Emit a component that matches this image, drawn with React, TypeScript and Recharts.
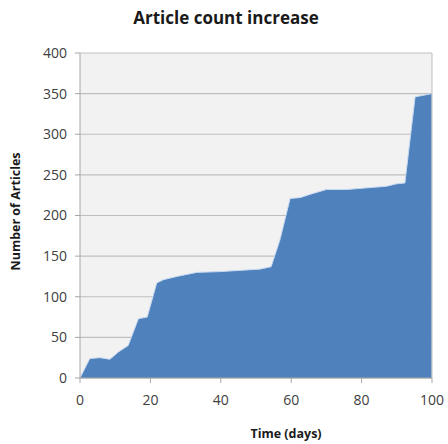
import { AreaChart, Area, XAxis, YAxis, CartesianGrid, ReferenceLine } from 'recharts';

const days = [0, 2.8, 5.7, 8.5, 10.9, 13.7, 16.6, 19.1, 21.8, 23.7, 27.5, 33.2, 40, 51.1, 54.3, 56.8, 59.7, 62.5, 65.3, 70, 75.8, 87.1, 90, 92.3, 95.2, 99.9];
const articles = [0, 24, 25, 23, 32, 40, 73, 75, 117, 121, 125, 130, 131, 134, 137, 170, 221, 222, 226, 232, 232, 236, 239, 240, 346, 350];
const xTicks = [0, 20, 40, 60, 80, 100];
const yTicks = [0, 50, 100, 150, 200, 250, 300, 350, 400];

const data = days.map((d, i) => ({ day: d, count: articles[i] }));

const font = '"Open Sans", "Noto Sans", sans-serif';

export default function App() {
  return (
    <div style={{ position: 'absolute', left: 0, top: 0, width: 448, height: 444, background: '#fff', fontFamily: font }}>
      <div
        style={{
          position: 'absolute',
          top: 6,
          left: 0,
          width: 448,
          textAlign: 'center',
          fontSize: 17,
          fontWeight: 700,
          color: '#1a1a1a',
          paddingLeft: 2,
        }}
      >
        Article count increase
      </div>
      <AreaChart width={448} height={444} data={data} margin={{ top: 53, right: 16, bottom: 0, left: 0 }}>
        <CartesianGrid vertical={false} fill="#f2f2f2" stroke="#bfbfbf" strokeWidth={1.2} />
        <ReferenceLine x={100} stroke="#bfbfbf" />
        <XAxis
          dataKey="day"
          type="number"
          domain={[0, 100]}
          ticks={xTicks}
          height={66}
          tickSize={5}
          tickMargin={12}
          stroke="#a6a6a6"
          tick={{ fontSize: 14, fill: '#404040', fontFamily: font }}
          label={{ value: 'Time (days)', position: 'insideBottom', offset: 6, dx: 30, style: { fontSize: 12.5, fontWeight: 700, fill: '#1a1a1a', fontFamily: font } }}
        />
        <YAxis
          type="number"
          domain={[0, 400]}
          ticks={yTicks}
          width={80}
          tickSize={5}
          tickMargin={8}
          stroke="#a6a6a6"
          tick={{ fontSize: 14, fill: '#404040', fontFamily: font }}
          label={{ value: 'Number of Articles', angle: -90, position: 'insideLeft', offset: 16, dy: 55, style: { fontSize: 12.5, fontWeight: 700, fill: '#1a1a1a', fontFamily: font } }}
        />
        <Area
          type="linear"
          dataKey="count"
          fill="#4f81bd"
          fillOpacity={1}
          stroke="#c6d9f1"
          strokeWidth={1}
          isAnimationActive={false}
        />
      </AreaChart>
    </div>
  );
}
